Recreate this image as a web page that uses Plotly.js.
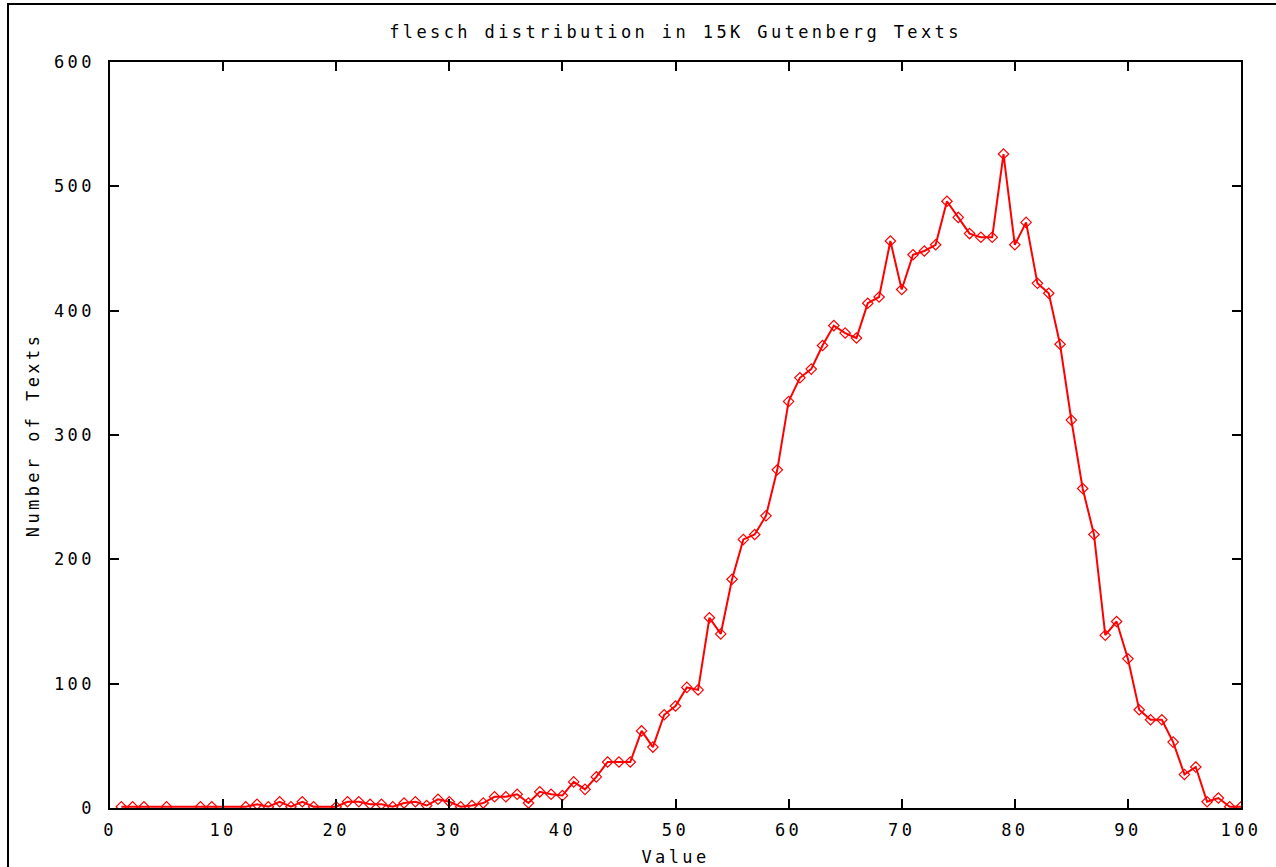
<!DOCTYPE html>
<html>
<head>
<meta charset="utf-8">
<script src="https://cdn.plot.ly/plotly-3.0.1.min.js"></script>
<style>
  html, body { margin: 0; padding: 0; background: #fff; }
  #frame { position: absolute; left: 7px; top: 3px; width: 1280px; height: 880px;
           border-left: 2px solid #000; border-top: 2px solid #000; pointer-events: none; z-index: 5; }
  #chart { position: absolute; left: 0; top: 0; width: 1276px; height: 867px; }
  #chart text { letter-spacing: 3.4px; }
</style>
</head>
<body>
<div id="chart"></div>
<div id="frame"></div>
<script>
const values = [1,2,3,5,8,9,12,13,14,15,16,17,18,20,21,22,23,24,25,26,27,28,29,30,
  31,32,33,34,35,36,37,38,39,40,41,42,43,44,45,46,47,48,49,50,
  51,52,53,54,55,56,57,58,59,60,61,62,63,64,65,66,67,68,69,70,
  71,72,73,74,75,76,77,78,79,80,81,82,83,84,85,86,87,88,89,90,
  91,92,93,94,95,96,97,98,99,100];
const counts = [1,1,1,1,1,1,1,3,1,5,1,5,1,1,5,5,3,3,1,4,5,2,7,5,
  1,2,4,9,9,11,4,13,11,10,21,15,25,37,37,37,62,49,75,82,
  97,95,153,140,184,216,220,235,272,327,346,353,372,388,382,378,406,411,456,417,
  445,448,453,488,475,462,459,459,526,453,471,422,414,373,312,257,220,139,150,120,
  79,71,71,53,27,33,5,8,1,1];
const xTicks = [0,10,20,30,40,50,60,70,80,90,100];
const yTicks = [0,100,200,300,400,500,600];

const fnt = {family: 'DejaVu Sans Mono, monospace', size: 17, color: '#000'};

Plotly.newPlot('chart', [{
  x: values, y: counts, type: 'scatter', mode: 'lines+markers',
  line: {color: '#ff0000', width: 2},
  marker: {symbol: 'diamond-open', size: 8, color: '#ff0000', line: {width: 1.2, color: '#ff0000'}},
  hoverinfo: 'x+y', showlegend: false
}], {
  width: 1276, height: 867,
  margin: {l: 110, r: 35, t: 62, b: 59, pad: 0},
  paper_bgcolor: '#fff', plot_bgcolor: '#fff',
  font: fnt,
  title: {text: 'flesch distribution in 15K Gutenberg Texts', font: fnt,
          x: 0.5, xref: 'paper', xanchor: 'center', y: 1 - 32/867, yref: 'container', yanchor: 'middle'},
  xaxis: {
    range: [0, 100], tickvals: xTicks, ticktext: xTicks.map(String),
    ticks: 'inside', ticklen: 9, tickwidth: 1.5, tickcolor: '#000',
    showline: true, linecolor: '#000', linewidth: 1.5, mirror: 'ticks',
    showgrid: false, zeroline: false, tickfont: fnt, ticklabelstandoff: 6,
    title: {text: 'Value', font: fnt, standoff: 12}
  },
  yaxis: {
    range: [0, 600], tickvals: yTicks, ticktext: yTicks.map(String),
    ticks: 'inside', ticklen: 9, tickwidth: 1.5, tickcolor: '#000',
    showline: true, linecolor: '#000', linewidth: 1.5, mirror: 'ticks',
    showgrid: false, zeroline: false, tickfont: fnt, ticklabelstandoff: 10,
    title: {text: 'Number of Texts', font: fnt, standoff: 20}
  }
}, {displayModeBar: false});
</script>
</body>
</html>
